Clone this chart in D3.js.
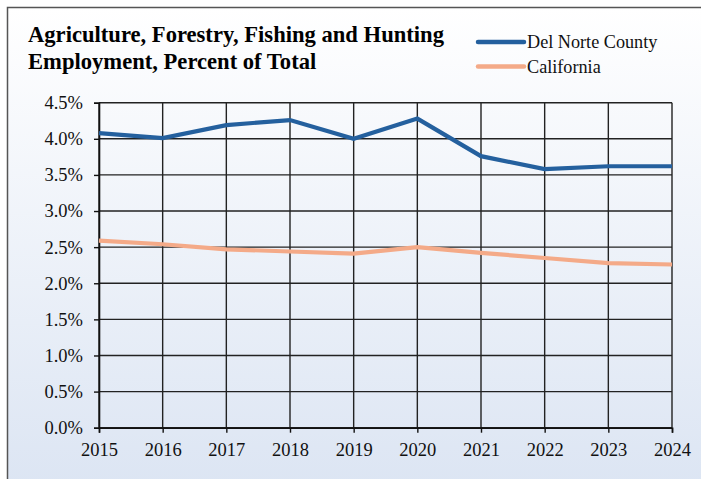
<!DOCTYPE html>
<html>
<head>
<meta charset="utf-8">
<script src="https://cdn.jsdelivr.net/npm/d3@7"></script>
<style>
  html, body { margin: 0; padding: 0; background: #ffffff; }
  svg { display: block; }
</style>
</head>
<body>
<script>
const years = [2015, 2016, 2017, 2018, 2019, 2020, 2021, 2022, 2023, 2024];
const delNorte = [4.08, 4.01, 4.19, 4.26, 4.00, 4.28, 3.76, 3.58, 3.62, 3.62];
const california = [2.59, 2.54, 2.47, 2.44, 2.41, 2.50, 2.42, 2.35, 2.28, 2.26];
const yTicks = [0, 0.5, 1.0, 1.5, 2.0, 2.5, 3.0, 3.5, 4.0, 4.5];
const titleLines = ["Agriculture, Forestry, Fishing and Hunting", "Employment, Percent of Total"];
const seriesNames = ["Del Norte County", "California"];
const seriesColors = ["#24609e", "#f4aa88"];

const W = 701, H = 479;
const svg = d3.select("body").append("svg").attr("width", W).attr("height", H);

const defs = svg.append("defs");
const grad = defs.append("linearGradient").attr("id", "bg").attr("x1", 0).attr("y1", 0).attr("x2", 0).attr("y2", 1);
grad.append("stop").attr("offset", "0%").attr("stop-color", "#ffffff");
grad.append("stop").attr("offset", "100%").attr("stop-color", "#dce5f3");

svg.append("rect").attr("x", 7.5).attr("y", 7.5).attr("width", W).attr("height", H)
  .attr("fill", "url(#bg)").attr("stroke", "#555").attr("stroke-width", 1.5);

const x = d3.scalePoint().domain(years).range([99, 672]);
const y = d3.scaleLinear().domain([0, 4.5]).range([427.7, 102.7]);

const fontFam = "'Liberation Serif', 'Times New Roman', serif";

// gridlines
const grid = svg.append("g");
grid.selectAll("line.h").data(yTicks).enter().append("line")
  .attr("x1", 99).attr("x2", 672)
  .attr("y1", d => y(d)).attr("y2", d => y(d))
  .attr("stroke", "#222").attr("stroke-width", 1.4);
grid.selectAll("line.v").data(years).enter().append("line")
  .attr("y1", y(4.5)).attr("y2", y(0))
  .attr("x1", d => x(d)).attr("x2", d => x(d))
  .attr("stroke", "#222").attr("stroke-width", 1.4);

// axes
const yAxis = d3.axisLeft(y).tickValues(yTicks).tickSize(5).tickPadding(11)
  .tickFormat(d => d.toFixed(1) + "%");
const gy = svg.append("g").attr("transform", "translate(99,0)").call(yAxis);
const xAxis = d3.axisBottom(x).tickSize(5).tickPadding(10).tickFormat(d => String(d));
const gx = svg.append("g").attr("transform", `translate(0,${y(0)})`).call(xAxis);
[gx, gy].forEach(g => {
  g.attr("font-family", null).attr("font-size", null);
  g.select(".domain").attr("stroke", "#111").attr("stroke-width", 1.6);
  g.selectAll(".tick line").attr("stroke", "#111").attr("stroke-width", 1.4);
  g.selectAll(".tick text").attr("fill", "#111").style("font-family", fontFam).style("font-size", "18.5px");
});

// lines
const line = d3.line().x((d, i) => x(years[i])).y(d => y(d));
[delNorte, california].forEach((s, i) => {
  svg.append("path").datum(s).attr("d", line)
    .attr("fill", "none").attr("stroke", seriesColors[i])
    .attr("stroke-width", 4.2).attr("stroke-linejoin", "miter");
});

// title
const t = svg.append("text")
  .style("font-family", fontFam).style("font-size", "22.6px").style("font-weight", "bold").attr("fill", "#000");
titleLines.forEach((l, i) => {
  t.append("tspan").attr("x", 28).attr("y", 42 + i * 27).text(l);
});

// legend
const lg = svg.append("g");
seriesNames.forEach((n, i) => {
  const ly = 42 + i * 24.5;
  lg.append("line").attr("x1", 478).attr("x2", 524).attr("y1", ly).attr("y2", ly)
    .attr("stroke", seriesColors[i]).attr("stroke-width", 4.5).attr("stroke-linecap", "round");
  lg.append("text").attr("x", 527).attr("y", ly + 6)
    .style("font-family", fontFam).style("font-size", "18.2px").attr("fill", "#111").text(n);
});
</script>
</body>
</html>
